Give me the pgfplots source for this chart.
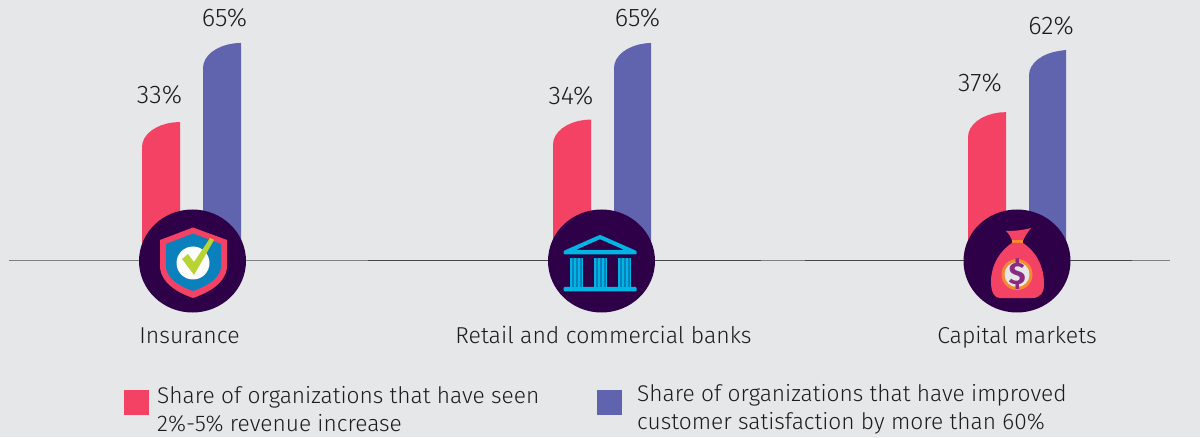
\documentclass[border=0pt]{standalone}
\usepackage{pgfplots}
\usepackage{pgfplotstable}
\usepackage{fontspec}
\setmainfont{Fira Sans Light}
\newfontfamily\dollarfont{Fira Sans Bold}
\pgfplotsset{compat=1.18}

\definecolor{bg}{HTML}{E6E7E9}
\definecolor{pinkbar}{HTML}{F44265}
\definecolor{bluebar}{HTML}{6064AE}
\definecolor{navy}{HTML}{2E0048}
\definecolor{shieldblue}{HTML}{0A80BC}
\definecolor{cyanicon}{HTML}{00B5E2}
\definecolor{lime}{HTML}{B8D433}
\definecolor{orangeicon}{HTML}{F58A33}
\definecolor{purpleicon}{HTML}{8A2A80}
\definecolor{textcol}{HTML}{1C1C1C}

% bar outlines: x in picture px, y in percent, top left corner rounded
\pgfplotstableread{
x y
142 -22.87
142 22.88
142.6 24.64
144.3 26.34
147.1 27.94
150.9 29.39
155.6 30.63
161 31.64
167 32.39
173.4 32.85
180 33
180 -22.87
553 -22.87
553 23.88
553.6 25.64
555.3 27.34
558.1 28.94
561.9 30.39
566.6 31.63
572 32.64
578 33.39
584.4 33.85
591 34
591 -22.87
968 -22.87
968 26.88
968.6 28.64
970.3 30.34
973.1 31.94
976.9 33.39
981.6 34.63
987 35.64
993 36.39
999.4 36.85
1006 37
1006 -22.87
}\pinkbars
\pgfplotstableread{
x y
203 -22.87
203 54.88
203.6 56.64
205.3 58.34
208.1 59.94
211.9 61.39
216.6 62.63
222 63.64
228 64.39
234.4 64.85
241 65
241 -22.87
614 -22.87
614 54.88
614.6 56.64
616.3 58.34
619.1 59.94
622.9 61.39
627.6 62.63
633 63.64
639 64.39
645.4 64.85
651 65
651 -22.87
1029 -22.87
1029 51.88
1029.6 53.64
1031.3 55.34
1034.1 56.94
1037.9 58.39
1042.6 59.63
1048 60.64
1054 61.39
1060.4 61.85
1066 62.2
1066 -22.87
}\bluebars
% value labels: dy is the gap above the bar top
\pgfplotstableread{
x v dy lab
159.5 33 27 33\%
224.5 65 25 65\%
571 34 24 34\%
637.5 65 25 65\%
980 37 29 37\%
1051 62 25 62\%
}\vallabels

\begin{document}
\begin{tikzpicture}[x=1pt,y=1pt]
\fill[bg] (0,0) rectangle (1200,437);
\begin{axis}[
at={(0pt,0pt)},anchor=south west,
scale only axis,
width=1200pt,height=437pt,
xmin=0,xmax=1200,
ymin=-94.5,ymax=82.39,
hide axis,
clip=false
]
\addplot[fill=pinkbar,draw=none] table[x=x,y=y] {\pinkbars};
\addplot[fill=bluebar,draw=none] table[x=x,y=y] {\bluebars};
\addplot[draw=none,
  visualization depends on={\thisrow{dy}\as\dy},
  nodes near coords,
  point meta=explicit symbolic,
  every node near coord/.style={anchor=center,yshift=\dy pt,font=\fontsize{25.5}{29}\selectfont,text=textcol}
] table[x=x,y=v,meta=lab] {\vallabels};
% baseline, lighter and darker stretches
\addplot[color=black!50,line width=1pt] coordinates {(9,-22.87) (1170,-22.87)};
\addplot[color=black!72,line width=1pt,unbounded coords=jump] coordinates {
(368,-22.87) (548,-22.87) (600,nan)
(655,-22.87) (761,-22.87) (780,nan)
(805,-22.87) (964,-22.87) (1000,nan)
(1070,-22.87) (1132,-22.87)
};
\end{axis}

% icons and texts in picture px, y down
\begin{scope}[shift={(0,437)},y=-1pt]
\fill[navy] (192.5,261) ellipse (53.5 and 51.5);
\fill[navy] (601.5,261) ellipse (53.5 and 51.5);
\fill[navy] (1017,261) ellipse (53.5 and 51.5);

% shield
\fill[pinkbar] (160,240) -- (193,227.5) -- (227,240) -- (227,268) .. controls (225,283) and (210,292) .. (193,298) .. controls (176,292) and (162,283) .. (160,268) -- cycle;
\fill[shieldblue] (166,244) -- (193,233.5) -- (221,244) -- (221,268) .. controls (219,279) and (207,286) .. (193,291) .. controls (179,286) and (168,279) .. (166,268) -- cycle;
\fill[white] (193,263) circle (16.5);
\fill[lime] (182,259) -- (188,254) -- (194,262) -- (210,238) -- (214,240) -- (194,275) -- cycle;

% bank
\begin{scope}[cyanicon]
\draw[line width=4pt,line join=round] (566,252) -- (600,237) -- (634,252) -- cycle;
\fill[rounded corners=1pt] (563.7,250.5) rectangle (636.7,254.5);
\fill[rounded corners=1pt] (563.7,287) rectangle (636.7,291.5);
\foreach \cx in {576.5,600.5,624.5} {
  \fill[shieldblue] (\cx-6.5,258) rectangle (\cx+6.5,287);
  \foreach \o in {-6.5,-2.5,1.5,5} { \fill (\cx+\o,258) rectangle (\cx+\o+1.6,287); }
}
\end{scope}

% money bag
\fill[pinkbar] (1006,231) .. controls (1015,231) and (1024,230) .. (1031,228) .. controls (1027,233) and (1024,238) .. (1023,241) -- (1012,241) .. controls (1011,237) and (1009,234) .. (1006,231) -- cycle;
\fill[orangeicon] (1012,240) rectangle (1023,243);
\fill[pinkbar] (1012,243) -- (1023,243) .. controls (1034,250) and (1044,264) .. (1044,284) .. controls (1044,293) and (1040,298) .. (1032,298) -- (1000,298) .. controls (995,298) and (991,293) .. (991,282) .. controls (991,264) and (1001,250) .. (1012,243) -- cycle;
\fill[orangeicon] (1017,274.5) circle (15.5);
\fill[bg] (1017,274.5) circle (12.5);
\node[text=purpleicon,font=\fontsize{31}{31}\selectfont\dollarfont] at (1017,274.5) {\$};

\node[text=textcol,font=\fontsize{23}{26}\selectfont,anchor=base] at (189.5,343) {Insurance};
\node[text=textcol,font=\fontsize{23}{26}\selectfont,anchor=base] at (603.5,343) {Retail and commercial banks};
\node[text=textcol,font=\fontsize{23}{26}\selectfont,anchor=base] at (1017,343) {Capital markets};

% legend
\fill[pinkbar] (124,390) rectangle (149,415);
\fill[bluebar] (597,390) rectangle (622,415);
\node[text=textcol,font=\fontsize{22.7}{28}\selectfont,align=left,anchor=west,inner sep=0pt] at (157,409) {Share of organizations that have seen\\2\%-5\% revenue increase};
\node[text=textcol,font=\fontsize{22.7}{28}\selectfont,align=left,anchor=west,inner sep=0pt] at (637,409) {Share of organizations that have improved\\customer satisfaction by more than 60\%};
\end{scope}
\end{tikzpicture}
\end{document}
